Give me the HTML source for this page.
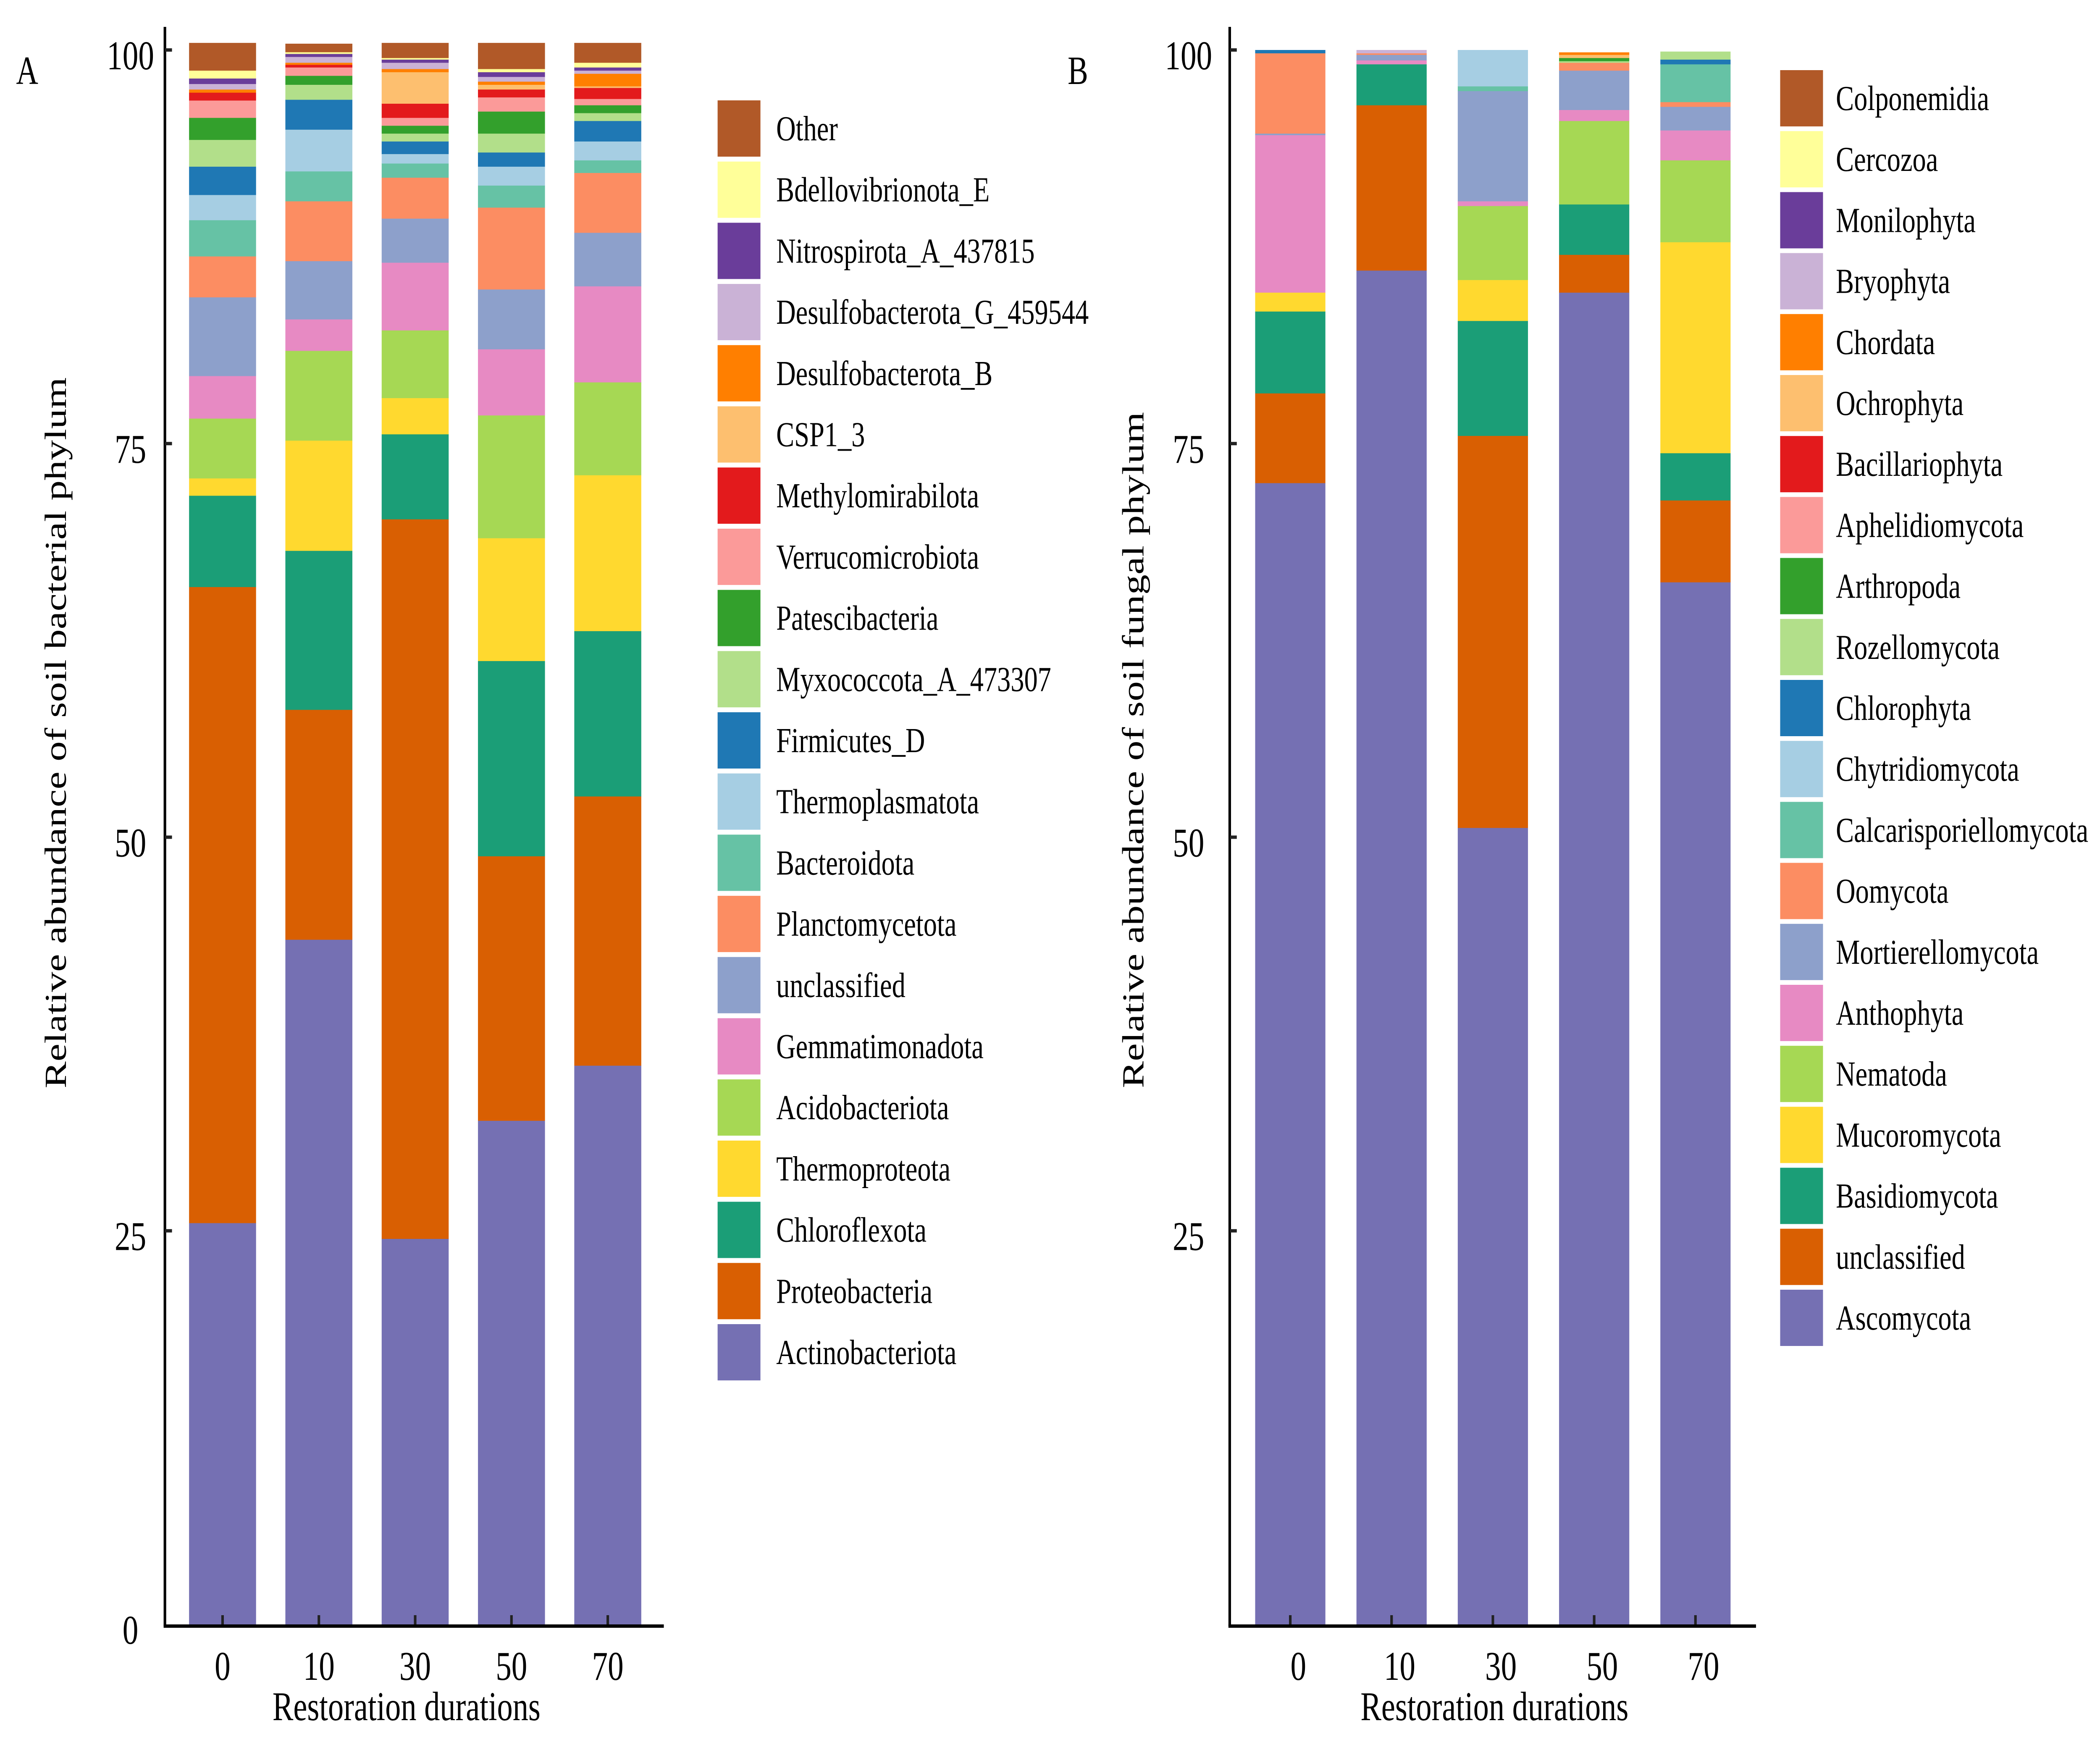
<!DOCTYPE html>
<html><head><meta charset="utf-8"><style>
html,body{margin:0;padding:0;background:#fff;width:100%;height:100%;overflow:hidden;}
svg{display:block;width:100vw;height:100vh;font-family:"Liberation Serif","Times New Roman",serif;}
</style></head><body>
<svg id="fig" viewBox="0 0 6520 4148" preserveAspectRatio="none" xmlns="http://www.w3.org/2000/svg">
<rect x="0" y="0" width="6520" height="4148" fill="#fff"/>
<g id="panelA"></g>
<g id="panelB"></g>
</svg>
<script>
// ---------- Data ----------
const samples = ["0", "10", "30", "50", "70"];
const yTicks = [0, 25, 50, 75, 100];

// Bacteria (bottom to top)
const bactNames = ["Actinobacteriota","Proteobacteria","Chloroflexota","Thermoproteota","Acidobacteriota","Gemmatimonadota","unclassified","Planctomycetota","Bacteroidota","Thermoplasmatota","Firmicutes_D","Myxococcota_A_473307","Patescibacteria","Verrucomicrobiota","Methylomirabilota","CSP1_3","Desulfobacterota_B","Desulfobacterota_G_459544","Nitrospirota_A_437815","Bdellovibrionota_E","Other"];
const bact0  = [25.5,40.4,5.8,1.1,3.8,2.7,5.0,2.6,2.3,1.6,1.8,1.7,1.4,1.1,0.5,0.0,0.2,0.35,0.35,0.5,1.75];
const bact10 = [43.5,14.6,10.1,7.0,5.7,2.0,3.7,3.8,1.9,2.65,1.9,0.95,0.57,0.53,0.17,0.0,0.13,0.37,0.19,0.11,0.53];
const bact30 = [24.5,45.7,5.4,2.3,4.3,4.3,2.8,2.6,0.9,0.6,0.8,0.5,0.5,0.5,0.9,2.0,0.2,0.4,0.2,0.1,0.95];
const bact50 = [32.0,16.8,12.4,7.8,7.8,4.2,3.8,5.2,1.4,1.2,0.9,1.2,1.4,0.9,0.5,0.3,0.2,0.3,0.3,0.2,1.65];
const bact70 = [35.5,17.1,10.5,9.9,5.9,6.1,3.4,3.8,0.8,1.2,1.3,0.5,0.5,0.4,0.7,0.1,0.8,0.2,0.2,0.3,1.25];

// Fungi (bottom to top)
const fungNames = ["Ascomycota","unclassified","Basidiomycota","Mucoromycota","Nematoda","Anthophyta","Mortierellomycota","Oomycota","Calcarisporiellomycota","Chytridiomycota","Chlorophyta","Rozellomycota","Arthropoda","Aphelidiomycota","Bacillariophyta","Ochrophyta","Chordata","Bryophyta","Monilophyta","Cercozoa","Colponemidia"];
const fung0  = [72.5,5.7,5.2,1.2,0.0,10.0,0.1,5.1,0.0,0.0,0.2,0,0,0,0,0,0,0,0,0,0];
const fung10 = [86.0,10.5,2.6,0.0,0.0,0.25,0.35,0.1,0,0,0,0,0,0,0,0,0,0.2,0,0,0];
const fung30 = [50.6,24.9,7.3,2.6,4.7,0.3,7.0,0.0,0.3,2.3,0,0,0,0,0,0,0,0,0,0,0];
const fung50 = [84.6,2.4,3.2,0.0,5.3,0.7,2.5,0.5,0,0,0,0.1,0.2,0,0,0.2,0.15,0,0,0,0];
const fung70 = [66.2,5.2,3.0,13.4,5.2,1.9,1.5,0.3,2.4,0,0.3,0.5,0,0,0,0,0,0,0,0,0];

const palette = ["#7570b3","#d95f02","#1b9e77","#ffd92f","#a6d854","#e78ac3","#8da0cb","#fc8d62","#66c2a5","#a6cee3","#1f78b4","#b2df8a","#33a02c","#fb9a99","#e31a1c","#fdbf6f","#ff7f00","#cab2d6","#6a3d9a","#ffff99","#b15928"];

const NS = "http://www.w3.org/2000/svg";
function mk(tag, attrs, parent){const e=document.createElementNS(NS,tag);for(const k in attrs)e.setAttribute(k,attrs[k]);parent.appendChild(e);return e;}

function drawPanel(g, cfg){
  const yScale = v => cfg.y0 - v*cfg.unit;
  const xLeft = i => cfg.barLeft + i*cfg.step;
  cfg.series.forEach((vals, si) => {
    let cum = 0;
    const bg = mk("g", {}, g);
    
    
    vals.forEach((v, ti) => {
      if (v <= 0) { return; }
      const top = yScale(cum + v), bot = yScale(cum);
      const r = mk("rect", {x: xLeft(si), y: top, width: cfg.barW, height: bot - top + 0.5, fill: palette[ti]}, bg);
      
      
      cum += v;
    });
  });
  const ya = mk("line", {x1: cfg.axX, y1: cfg.axTop, x2: cfg.axX, y2: cfg.y0 + 4, stroke: "#000", "stroke-width": 8}, g);
  
  
  const xa = mk("line", {x1: cfg.axX - 4, y1: cfg.y0 + 4, x2: cfg.axRight, y2: cfg.y0 + 4, stroke: "#000", "stroke-width": 8}, g);
  
  
  yTicks.forEach(t => {
    const y = yScale(t);
    if (t > 0) {
      const tk = mk("line", {x1: cfg.axX, y1: y, x2: cfg.axX + 22, y2: y, stroke: "#222", "stroke-width": 8}, g);
      
      
    }
    if (t === 0 && !cfg.showZero) return;
    const lb = mk("text", {x: cfg.yLabX, y: y + 46, "text-anchor": "middle", "font-size": 98, fill: "#000"}, g);
    lb.textContent = String(t);
    
    
  });
  samples.forEach((s, i) => {
    const cx = xLeft(i) + cfg.barW/2;
    const tk = mk("line", {x1: cx, y1: cfg.y0, x2: cx, y2: cfg.y0 - 22, stroke: "#222", "stroke-width": 8}, g);
    
    
    const lb = mk("text", {x: cx + cfg.xLabOff, y: 4000, "text-anchor": "middle", "font-size": 98, fill: "#000"}, g);
    lb.textContent = s;
    
    
  });
  const xt = mk("text", {x: cfg.xTitleX, y: 4096, "text-anchor": "middle", "font-size": 97, fill: "#000", textLength: 832, lengthAdjust: "spacingAndGlyphs"}, g);
  xt.textContent = "Restoration durations";
  
  
  const yt = mk("text", {x: 0, y: 0, "text-anchor": "middle", "font-size": 95, fill: "#000", textLength: cfg.yTitleLen, lengthAdjust: "spacingAndGlyphs", transform: "translate(" + cfg.yTitleX + "," + cfg.yTitleY + ") rotate(-90)"}, g);
  yt.textContent = cfg.yTitle;
  
  
  const pl = mk("text", {x: cfg.panelX, y: 200, "font-size": 95, fill: "#000"}, g);
  pl.textContent = cfg.panel;
  
  
  const lg = mk("g", {}, g);
  
  
  const n = cfg.names.length;
  for (let k = 0; k < n; k++) {
    const ti = n - 1 - k;
    const cy = cfg.legTop + k*cfg.legStep;
    const it = mk("g", {}, lg);
    
    
    const sw = mk("rect", {x: cfg.legX, y: cy - 67, width: 133, height: 134, fill: palette[ti]}, it);
    
    
    const tx = mk("text", {x: cfg.legTextX, y: cy + 28, "font-size": 84, fill: "#000"}, it);
    tx.textContent = cfg.names[ti];
    
    
    const maxW = cfg.legMaxRight - cfg.legTextX;
    if (tx.getComputedTextLength() > maxW) {
      tx.setAttribute('textLength', maxW);
      tx.setAttribute('lengthAdjust', 'spacingAndGlyphs');
    }
  }
}

drawPanel(document.getElementById("panelA"), {
  series: [bact0, bact10, bact30, bact50, bact70], names: bactNames,
  y0: 3868, unit: 37.49, barLeft: 587, barW: 208, step: 299,
  axX: 512, axTop: 64, axRight: 2061, yLabX: 405, showZero: true, xLabOff: 0,
  xTitleX: 1262, yTitleX: 205, yTitleY: 1745, yTitleLen: 1693,
  yTitle: "Relative abundance of soil bacterial phylum", panel: "A", panelX: 50,
  legX: 2228, legTextX: 2410, legTop: 306, legStep: 145.7, legMaxRight: 3390
});
drawPanel(document.getElementById("panelB"), {
  series: [fung0, fung10, fung30, fung50, fung70], names: fungNames,
  y0: 3868, unit: 37.49, barLeft: 3897, barW: 218, step: 314.5,
  axX: 3818, axTop: 64, axRight: 5452, yLabX: 3690, showZero: false, xLabOff: 25,
  xTitleX: 4640, yTitleX: 3550, yTitleY: 1786, yTitleLen: 1610,
  yTitle: "Relative abundance of soil fungal phylum", panel: "B", panelX: 3315,
  legX: 5527, legTextX: 5700, legTop: 234, legStep: 145.2, legMaxRight: 6495
});
</script>
</body></html>
